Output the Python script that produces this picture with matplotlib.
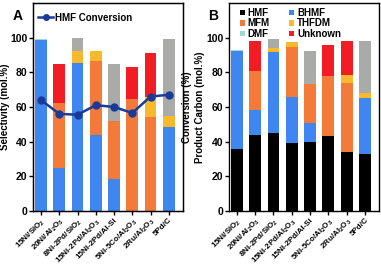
import numpy as np
import matplotlib
matplotlib.use("Agg")
import matplotlib.pyplot as plt

plt.rcParams['font.family'] = 'Liberation Sans'
plt.rcParams['font.weight'] = 'bold'
plt.rcParams['mathtext.fontset'] = 'custom'
plt.rcParams['mathtext.rm'] = 'Liberation Sans:bold'
plt.rcParams['mathtext.default'] = 'rm'

catalysts = ['15Ni/SiO$_2$', '20Ni/Al$_2$O$_3$', '8Ni-2Pd/SiO$_2$', '15Ni-2Pd/Al$_2$O$_3$',
             '15Ni-2Pd/Al-Si', '5Ni-5Co/Al$_2$O$_3$', '2Ru/Al$_2$O$_3$', '5Pd/C']

# panel A: selectivity (mol.%)
a_bhmf = [98.5, 25, 85.5, 44, 18.5, 0, 0, 48.5]
a_mfm = [0, 37.5, 0, 42.5, 33.5, 64.5, 54, 0]
a_thfdm = [0, 0, 6.5, 6, 0, 0, 11.5, 6.5]
a_dmf = [0.7, 0, 8, 0, 32.5, 0, 0, 44]
a_unknown = [0, 22.5, 0, 0, 0, 18.5, 25.5, 0]
conversion = [64, 56, 55.5, 61, 60, 56.5, 66, 67]

# panel B: product carbon (mol.%)
b_hmf = [36, 44, 45, 39, 40, 43.5, 34, 33]
b_bhmf = [56, 14, 46.5, 26.5, 11, 0, 0, 32]
b_mfm = [0, 23, 0, 29, 22.5, 34.5, 40, 0]
b_thfdm = [0, 0, 2.5, 3, 0, 0, 4.5, 3]
b_dmf = [0.7, 0, 5, 0, 18.5, 0, 0, 30]
b_unknown = [0, 17, 0, 0, 0, 18, 19.5, 0]

c_hmf = 'black'
c_bhmf = '#3f86f0'
c_mfm = '#f47a3a'
c_thfdm = '#f8b92a'
c_dmf = '#a9aba9'
c_unknown = '#f21d24'
c_dmf_a1 = '#9fd6d6'

fig = plt.figure(figsize=(3.81, 2.67), dpi=100)
axA = fig.add_axes([0.087, 0.21, 0.393, 0.779])
axB = fig.add_axes([0.601, 0.21, 0.394, 0.779])

x = np.arange(len(catalysts))
w = 0.65


def stack(ax, series, colors, labels):
    bottom = np.zeros(len(x))
    handles = []
    for vals, col, lab in zip(series, colors, labels):
        vals = np.array(vals, dtype=float)
        h = ax.bar(x, vals, w, bottom=bottom, color=col, label=lab, linewidth=0)
        handles.append(h)
        bottom += vals
    return handles


stack(axA, [a_bhmf, a_mfm, a_thfdm, a_dmf, a_unknown],
      [c_bhmf, c_mfm, c_thfdm, c_dmf, c_unknown],
      ['BHMF', 'MFM', 'THFDM', 'DMF', 'Unknown'])
# light tint on top of first bar
axA.patches[len(x) * 3].set_color(c_dmf_a1)

hB = stack(axB, [b_hmf, b_bhmf, b_mfm, b_thfdm, b_dmf, b_unknown],
           [c_hmf, c_bhmf, c_mfm, c_thfdm, c_dmf, c_unknown],
           ['HMF', 'BHMF', 'MFM', 'THFDM', 'DMF', 'Unknown'])
axB.patches[len(x) * 4].set_color(c_dmf_a1)

twin = axA.twinx()
twin.plot(x, conversion, color='#1a3a9a', marker='o', markersize=5, linewidth=1.8,
          label='HMF Conversion')
twin.set_ylim(0, 120)
twin.set_yticks([])
twin.set_ylabel('Conversion (%)', fontsize=7, fontweight='bold')
twin.yaxis.set_label_coords(0.995, 0.5)
twin.legend(loc='upper left', frameon=False, fontsize=7, handlelength=1.5,
            handletextpad=0.2, borderaxespad=0.3, bbox_to_anchor=(-0.01, 0.985),
            markerscale=0.8)

for ax in (axA, axB):
    ax.set_xlim(-0.43, 7.77)
    ax.set_ylim(0, 120)
    ax.set_yticks([0, 20, 40, 60, 80, 100])
    ax.set_xticks(x)
    ax.set_xticklabels(catalysts, rotation=45, ha='right', rotation_mode='anchor',
                       fontsize=5.8, fontweight='bold')
    ax.tick_params(axis='y', labelsize=7.5, length=3, width=1, pad=1)
    ax.tick_params(axis='x', length=3, width=1, pad=1)
    for s in ax.spines.values():
        s.set_linewidth(1)
    for lab in ax.get_yticklabels():
        lab.set_fontweight('bold')

axA.set_ylabel('Selectivity (mol.%)', fontsize=7, fontweight='bold')
axA.yaxis.set_label_coords(-0.155, 0.5)
axB.set_ylabel('Product Carbon (mol.%)', fontsize=7, fontweight='bold')
axB.yaxis.set_label_coords(-0.16, 0.5)

order = [0, 2, 4, 1, 3, 5]
axB.legend([hB[i] for i in order], [hB[i].get_label() for i in order],
           loc='upper left', ncol=2, frameon=False, fontsize=7,
           handlelength=0.5, handleheight=0.5, handletextpad=0.3,
           columnspacing=2.0, labelspacing=0.05, borderaxespad=0.1,
           bbox_to_anchor=(0.04, 1.0))

fig.text(0.034, 0.966, 'A', fontsize=10, fontweight='bold', va='top')
fig.text(0.546, 0.966, 'B', fontsize=10, fontweight='bold', va='top')

fig.savefig('out.png', dpi=100)
